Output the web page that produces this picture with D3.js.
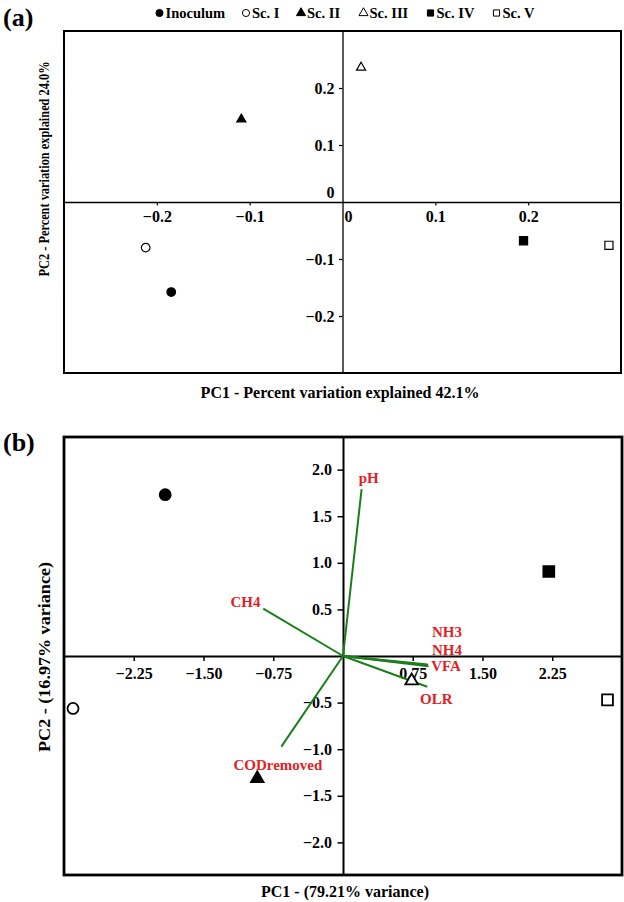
<!DOCTYPE html>
<html><head><meta charset="utf-8">
<script src="https://cdn.jsdelivr.net/npm/d3@7"></script>
<style>
body{margin:0;background:#fff}
svg{display:block}
text{font-family:"Liberation Serif","Times New Roman",serif;font-weight:bold;fill:#000}
</style>
</head><body><svg id="c" width="624" height="902"></svg>
<script>
// ---- data ----
const groups = ["Inoculum", "Sc. I", "Sc. II", "Sc. III", "Sc. IV", "Sc. V"];
const shapes = ["circle", "circle", "triangle", "triangle", "square", "square"];
const filled = [true, false, true, false, true, false];
// panel (a) PCoA scores
const pcoaX = [-0.1845, -0.212, -0.109, 0.020, 0.195, 0.287];
const pcoaY = [-0.158, -0.080, 0.145, 0.236, -0.068, -0.076];
// panel (b) PCA scores
const pcaX = [-1.912, -2.903, -0.922, 0.738, 2.213, 2.844];
const pcaY = [1.731, -0.563, -1.315, -0.266, 0.907, -0.471];
// panel (b) loading vectors
const variables = ["pH", "CH4", "NH3", "NH4", "VFA", "OLR", "CODremoved"];
const loadX = [0.20, -0.857, 0.91, 0.915, 0.92, 0.906, -0.663];
const loadY = [1.79, 0.508, -0.09, -0.10, -0.11, -0.33, -0.973];
const labelX = [0.277, -1.048, 1.118, 1.118, 1.108, 1.003, -0.70];
const labelY = [1.853, 0.529, 0.205, 0.012, -0.16, -0.515, -1.222];
// ticks
const ticksA = [-0.2, -0.1, 0.1, 0.2];
const ticksBX = [-2.25, -1.5, -0.75, 0.75, 1.5, 2.25];
const ticksBY = [-2, -1.5, -1, -0.5, 0.5, 1, 1.5, 2];
const domainA = [-0.3, 0.3];
const domainBX = [-3, 3];
const domainBY = [-2.35, 2.35];

const svg = d3.select("#c");
const symType = {circle: d3.symbolCircle, triangle: d3.symbolTriangle, square: d3.symbolSquare};

function marker(g, i, x, y, sizes, sw) {
  g.append("path")
    .attr("d", d3.symbol().type(symType[shapes[i]]).size(sizes[shapes[i]])())
    .attr("transform", `translate(${x},${y})`)
    .attr("fill", filled[i] ? "#000" : "#fff")
    .attr("stroke", "#000")
    .attr("stroke-width", sw);
}

// ---------- panel (a) ----------
const ax = d3.scaleLinear().domain(domainA).range([64, 621]);
const ay = d3.scaleLinear().domain(domainA).range([373, 31]);
const ga = svg.append("g");

ga.append("text").attr("x", 3).attr("y", 26).attr("font-size", 26).text("(a)");

// legend
const legX = [159.5, 246, 301, 363.5, 430.5, 496.5];
const legSizes = {circle: 40, triangle: 36, square: 38};
groups.forEach((gname, i) => {
  marker(ga, i, legX[i], 13, legSizes, 1);
  ga.append("text").attr("x", legX[i] + 6).attr("y", 18).attr("font-size", 14.5).text(gname);
});

// axes through zero
const axA = d3.axisBottom(ax).tickValues(ticksA).tickSize(3.5).tickPadding(5.2).tickSizeOuter(0).tickFormat(d3.format(".1f"));
const ayA = d3.axisLeft(ay).tickValues(ticksA).tickSize(3.5).tickPadding(4.5).tickSizeOuter(0).tickFormat(d3.format(".1f"));
const gxA = ga.append("g").attr("transform", `translate(0,${ay(0)})`).call(axA);
const gyA = ga.append("g").attr("transform", `translate(${ax(0)},0)`).call(ayA);
[gxA, gyA].forEach(g => {
  g.selectAll("text").attr("font-size", 16).attr("font-family", null);
  g.selectAll("path.domain").attr("stroke", "#000").attr("stroke-width", 1.3);
  g.selectAll("line").attr("stroke", "#000").attr("stroke-width", 1.2);
});
ga.append("text").attr("x", ax(0) + 2).attr("y", ay(0) + 20).attr("font-size", 16).text("0");
ga.append("text").attr("x", ax(0) - 8).attr("y", ay(0) - 4).attr("text-anchor", "end").attr("font-size", 16).text("0");

ga.append("rect").attr("x", 64).attr("y", 31).attr("width", 557).attr("height", 342)
  .attr("fill", "none").attr("stroke", "#000").attr("stroke-width", 2);

const sizesA = {circle: 58, triangle: 36, square: 66};
groups.forEach((gname, i) => marker(ga, i, ax(pcoaX[i]), ay(pcoaY[i]), sizesA, 1.2));

ga.append("text").attr("x", 340).attr("y", 398).attr("text-anchor", "middle").attr("font-size", 16)
  .text("PC1 - Percent variation explained 42.1%");
ga.append("text").attr("transform", "translate(49,169) rotate(-90)").attr("text-anchor", "middle")
  .attr("font-size", 15).attr("textLength", 215).attr("lengthAdjust", "spacingAndGlyphs")
  .text("PC2 - Percent variation explained 24.0%");

// ---------- panel (b) ----------
const bx = d3.scaleLinear().domain(domainBX).range([64, 622]);
const by = d3.scaleLinear().domain(domainBY).range([875, 437]);
const gb = svg.append("g");

gb.append("text").attr("x", 3).attr("y", 451).attr("font-size", 26).text("(b)");

const axB = d3.axisBottom(bx).tickValues(ticksBX).tickSize(5).tickPadding(7.1).tickSizeOuter(0).tickFormat(d3.format(".2f"));
const ayB = d3.axisLeft(by).tickValues(ticksBY).tickSize(5.5).tickPadding(5.5).tickSizeOuter(0).tickFormat(d3.format(".1f"));
const gxB = gb.append("g").attr("transform", `translate(0,${by(0)})`).call(axB);
const gyB = gb.append("g").attr("transform", `translate(${bx(0)},0)`).call(ayB);
[gxB, gyB].forEach(g => {
  g.selectAll("text").attr("font-size", 16).attr("font-family", null);
  g.selectAll("path.domain").attr("stroke", "#000").attr("stroke-width", 2);
  g.selectAll("line").attr("stroke", "#000").attr("stroke-width", 1.5);
});

gb.append("rect").attr("x", 64).attr("y", 437).attr("width", 558).attr("height", 438)
  .attr("fill", "none").attr("stroke", "#000").attr("stroke-width", 2.8);

// loading vectors
variables.forEach((v, i) => {
  gb.append("line").attr("x1", bx(0)).attr("y1", by(0)).attr("x2", bx(loadX[i])).attr("y2", by(loadY[i]))
    .attr("stroke", "#1a7f1a").attr("stroke-width", 2);
});

const sizesB = {circle: 95, triangle: 68, square: 118};
groups.forEach((gname, i) => marker(gb, i, bx(pcaX[i]), by(pcaY[i]), sizesB, 1.8));

variables.forEach((v, i) => {
  gb.append("text").attr("x", bx(labelX[i])).attr("y", by(labelY[i])).attr("text-anchor", "middle")
    .attr("font-size", 15).style("fill", "#e31e24").text(v);
});

gb.append("text").attr("x", 345).attr("y", 896.5).attr("text-anchor", "middle").attr("font-size", 16)
  .text("PC1 - (79.21% variance)");
gb.append("text").attr("transform", "translate(50,657) rotate(-90)").attr("text-anchor", "middle")
  .attr("font-size", 16).attr("textLength", 190).attr("lengthAdjust", "spacingAndGlyphs")
  .text("PC2 - (16.97% variance)");
</script>
</body></html>
